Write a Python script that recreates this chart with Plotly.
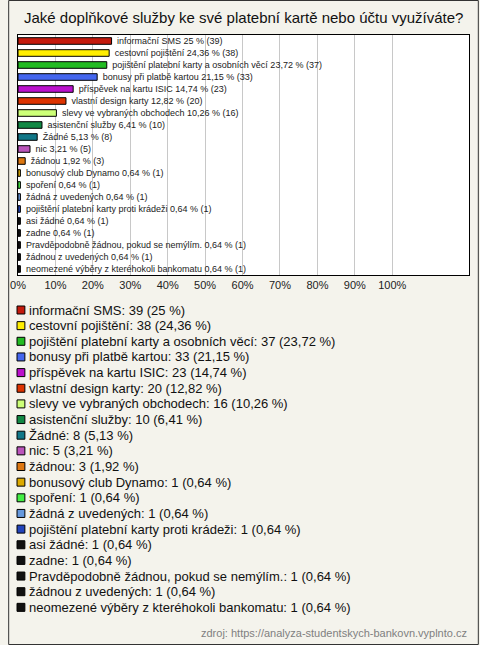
import plotly.graph_objects as go

categories = [
    "informační SMS",
    "cestovní pojištění",
    "pojištění platební karty a osobních věcí",
    "bonusy při platbě kartou",
    "příspěvek na kartu ISIC",
    "vlastní design karty",
    "slevy ve vybraných obchodech",
    "asistenční služby",
    "Žádné",
    "nic",
    "žádnou",
    "bonusový club Dynamo",
    "spoření",
    "žádná z uvedených",
    "pojištění platební karty proti krádeži",
    "asi žádné",
    "zadne",
    "Pravděpodobně žádnou, pokud se nemýlím.",
    "žádnou z uvedených",
    "neomezené výběry z kteréhokoli bankomatu",
]
counts = [39, 38, 37, 33, 23, 20, 16, 10, 8, 5, 3, 1, 1, 1, 1, 1, 1, 1, 1, 1]
percents = [25, 24.36, 23.72, 21.15, 14.74, 12.82, 10.26, 6.41, 5.13, 3.21, 1.92,
            0.64, 0.64, 0.64, 0.64, 0.64, 0.64, 0.64, 0.64, 0.64]
colors = ["#c41a0c", "#ffee00", "#22bb22", "#4466ee", "#bb11cc", "#dd3300",
          "#ccff77", "#118844", "#117788", "#bb55bb", "#dd7711", "#ddaa00",
          "#44ee44", "#6699dd", "#2244bb", "#111111", "#111111", "#111111",
          "#111111", "#111111"]
tick_values = [0, 10, 20, 30, 40, 50, 60, 70, 80, 90, 100]
tick_labels = ["0%", "10%", "20%", "30%", "40%", "50%", "60%", "70%", "80%", "90%", "100%"]

title_text = "Jaké doplňkové služby ke své platební kartě nebo účtu využíváte?"
source_text = "zdroj: https://analyza-studentskych-bankovn.vyplnto.cz"

W, H = 480, 645
L, R, T, B = 10, 10, 35, 370
PW, PH = W - L - R, H - T - B
FONT = "Liberation Sans, Arial, sans-serif"


def cz(p):
    s = f"{p:.2f}".rstrip("0").rstrip(".")
    return s.replace(".", ",")


def px(x):
    return (x - L) / PW


def py(y):
    return (H - B - y) / PH


bar_text = [f" {c} {cz(p)} % ({n})" for c, p, n in zip(categories, percents, counts)]

fig = go.Figure()
fig.add_trace(go.Bar(
    y=categories,
    x=percents,
    orientation="h",
    marker=dict(color=colors, line=dict(color="#000000", width=1)),
    width=0.55,
    text=bar_text,
    textposition="outside",
    constraintext="none",
    cliponaxis=False,
    textfont=dict(family=FONT, size=9, color="#222222"),
    hoverinfo="skip",
    showlegend=False,
))

shapes = []
annotations = []

# custom legend
for i, (c, p, n, col) in enumerate(zip(categories, percents, counts, colors)):
    yc = 310 + i * 15.65
    shapes.append(dict(type="rect", xref="paper", yref="paper",
                       x0=px(9), x1=px(17), y0=py(yc + 4), y1=py(yc - 4),
                       fillcolor=col, line=dict(color="#000000", width=1)))
    annotations.append(dict(xref="paper", yref="paper", x=px(19), y=py(yc),
                            xanchor="left", yanchor="middle", showarrow=False,
                            text=f"{c}: {n} ({cz(p)} %)",
                            font=dict(family=FONT, size=13, color="#111111")))

# source
annotations.append(dict(xref="paper", yref="paper", x=px(470), y=py(633),
                        xanchor="right", yanchor="middle", showarrow=False,
                        text=source_text,
                        font=dict(family=FONT, size=11, color="#808080")))
# title
annotations.append(dict(xref="paper", yref="paper", x=px(240), y=py(17),
                        xanchor="center", yanchor="middle", showarrow=False,
                        text=title_text,
                        font=dict(family=FONT, size=15, color="#111111")))

# outer border
shapes.append(dict(type="rect", xref="paper", yref="paper",
                   x0=px(0.5), x1=px(W - 0.5), y0=py(H - 0.5), y1=py(0.5),
                   line=dict(color="#333333", width=1), layer="above"))

fig.update_layout(
    width=W, height=H,
    margin=dict(l=L, r=R, t=T, b=B, pad=0),
    paper_bgcolor="#f4f3ec",
    plot_bgcolor="#ffffff",
    font=dict(family=FONT, size=12, color="#222222"),
    xaxis=dict(range=[0, 120.5], tickvals=tick_values, ticktext=tick_labels,
               showgrid=True, gridcolor="#c8c8c8", gridwidth=1,
               showline=True, linecolor="#000000", linewidth=1, mirror=True,
               zeroline=False, ticks="", tickfont=dict(size=11, color="#222222"),
               fixedrange=True),
    yaxis=dict(autorange="reversed", showticklabels=False, showgrid=False,
               showline=True, linecolor="#000000", linewidth=1, mirror=True,
               ticks="", fixedrange=True),
    shapes=shapes,
    annotations=annotations,
    bargap=0.45,
)

fig.write_html(
    "out.html",
    config={"displayModeBar": False},
    post_script="document.body.style.margin='0';document.body.style.overflow='hidden';",
)
